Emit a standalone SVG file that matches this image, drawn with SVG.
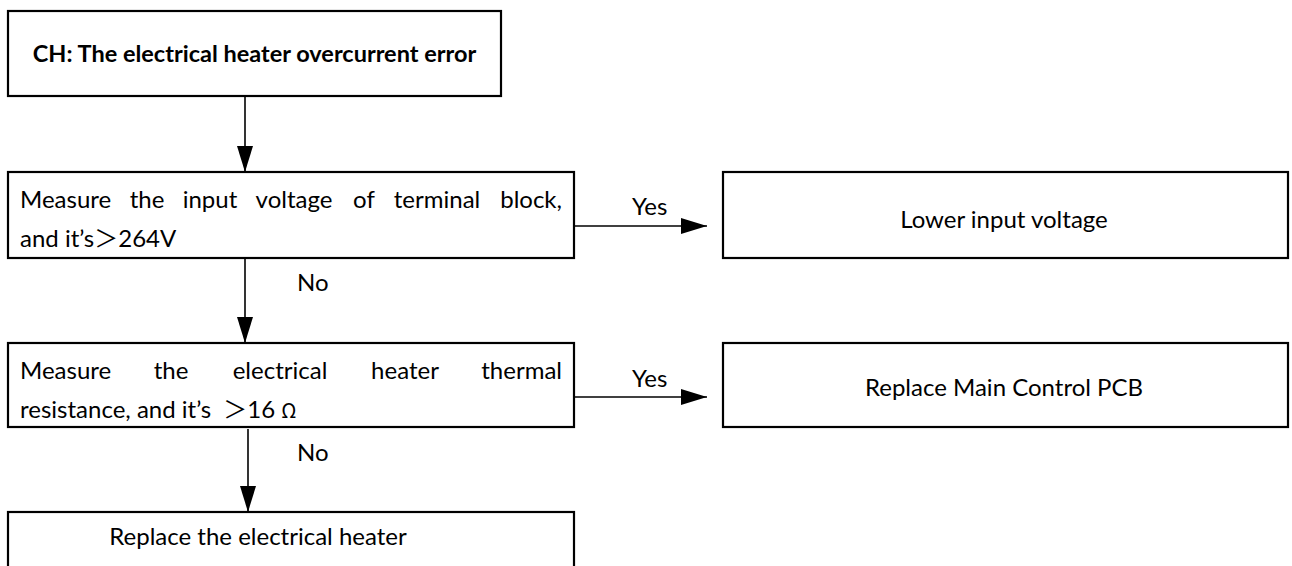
<svg xmlns="http://www.w3.org/2000/svg" width="1292" height="566" viewBox="0 0 1292 566">
<style>
.box{fill:#fff;stroke:#000;stroke-width:2.2}
.t{font-family:Lato,"Liberation Sans","Noto Sans CJK SC",sans-serif;font-size:24px;fill:#000}
.b{font-weight:bold;font-size:23.5px}
.c{text-anchor:middle}
.e{text-anchor:end}
.cjk{font-family:"Noto Sans CJK SC",sans-serif;font-size:20px}
.ln{stroke:#000;stroke-width:1.6;fill:none}
</style>
<defs>
<marker id="ah" markerUnits="userSpaceOnUse" markerWidth="26" markerHeight="16" refX="26" refY="8" orient="auto">
<path d="M0,0 L26,8 L0,16 Z" fill="#000"/>
</marker>
</defs>
<rect width="1292" height="566" fill="#fff"/>
<g id="connectors">
<line class="ln" x1="245" y1="96" x2="245" y2="172" marker-end="url(#ah)"/>
<line class="ln" x1="574" y1="226" x2="707" y2="226" marker-end="url(#ah)"/>
<text class="t" x="632" y="215">Yes</text>
<line class="ln" x1="245" y1="258" x2="245" y2="343" marker-end="url(#ah)"/>
<text class="t" x="297" y="291">No</text>
<line class="ln" x1="574" y1="397" x2="707" y2="397" marker-end="url(#ah)"/>
<text class="t" x="632" y="387">Yes</text>
<line class="ln" x1="248" y1="429" x2="248" y2="512" marker-end="url(#ah)"/>
<text class="t" x="297" y="461">No</text>
</g>
<g id="n1">
<rect class="box" x="8" y="11" width="493" height="85"/>
<text class="t b c" x="254.5" y="62">CH: The electrical heater overcurrent error</text>
</g>
<g id="n2">
<rect class="box" x="8" y="172" width="566" height="86"/>
<text class="t" y="208"><tspan x="20">Measure</tspan><tspan class="c" x="147">the</tspan><tspan class="c" x="210">input</tspan><tspan class="c" x="294">voltage</tspan><tspan class="c" x="364">of</tspan><tspan class="c" x="437">terminal</tspan><tspan class="e" x="562">block,</tspan></text>
<text class="t" x="20" y="247">and it’s＞264V</text>
</g>
<g id="n3">
<rect class="box" x="723" y="172" width="565" height="86"/>
<text class="t c" x="1004" y="228">Lower input voltage</text>
</g>
<g id="n4">
<rect class="box" x="8" y="343" width="566" height="84"/>
<text class="t" y="379"><tspan x="20">Measure</tspan><tspan class="c" x="171">the</tspan><tspan class="c" x="280">electrical</tspan><tspan class="c" x="405">heater</tspan><tspan class="e" x="562">thermal</tspan></text>
<text class="t" x="20" y="418">resistance, and it’s <tspan dx="6">＞16</tspan><tspan class="cjk" dx="6">Ω</tspan></text>
</g>
<g id="n5">
<rect class="box" x="723" y="343" width="565" height="84"/>
<text class="t c" x="1004" y="396">Replace Main Control PCB</text>
</g>
<g id="n6">
<rect class="box" x="8" y="512" width="566" height="80"/>
<text class="t c" x="258" y="545">Replace the electrical heater</text>
</g>
</svg>
